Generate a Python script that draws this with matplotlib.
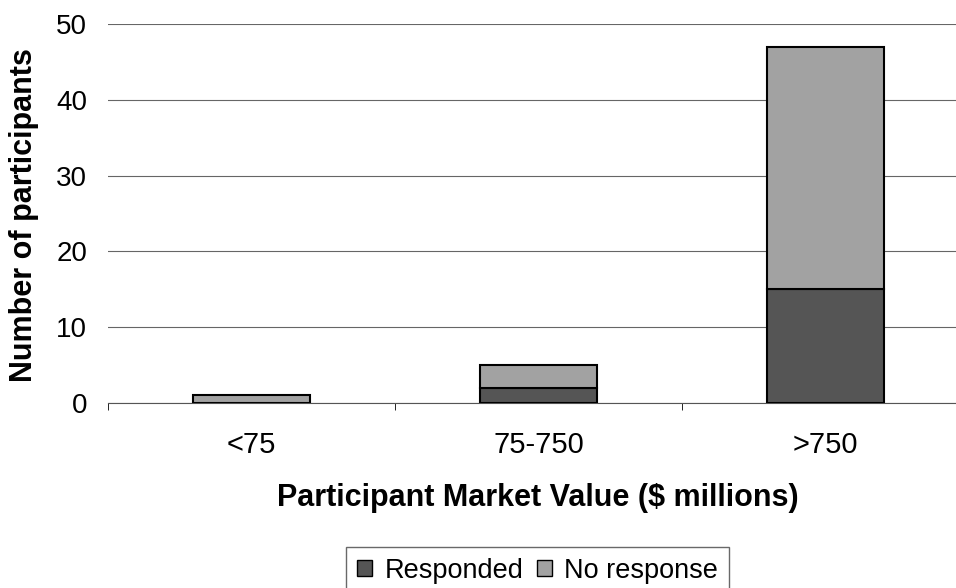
import matplotlib
matplotlib.use("Agg")
import matplotlib.pyplot as plt
from matplotlib.patches import Patch

plt.rcParams['font.family'] = ['Liberation Sans', 'DejaVu Sans']

categories = ["<75", "75-750", ">750"]
responded = [0, 2, 15]
no_response = [1, 3, 32]
yticks = [0, 10, 20, 30, 40, 50]

dark = "#555555"
light = "#a2a2a2"

fig = plt.figure(figsize=(9.56, 5.88), dpi=100)
W, H = 956, 588
left, right, bottom, top = 108, 969, 403, 24
ax = fig.add_axes([left / W, 1 - bottom / H, (right - left) / W, (bottom - top) / H])

x = list(range(len(categories)))
bw = 0.41
ax.bar(x, responded, width=bw, color=dark, edgecolor="black", linewidth=1.5, zorder=3, label="Responded")
ax.bar(x, no_response, width=bw, bottom=responded, color=light, edgecolor="black", linewidth=1.5, zorder=3, label="No response")

ax.set_xlim(-0.5, 2.5)
ax.set_ylim(0, 50)
ax.set_yticks(yticks)
ax.set_xticks(x)
ax.set_xticklabels(categories)
ax.set_xticks([-0.5, 0.5, 1.5, 2.5], minor=True)
ax.tick_params(axis="x", which="major", length=0, pad=20, labelsize=21)
ax.tick_params(axis="x", which="minor", length=5, color="black")
ax.tick_params(axis="y", length=0, pad=15, labelsize=20)
ax.yaxis.grid(True, color="#666666", linewidth=0.8, zorder=0)
for s in ["top", "right", "left"]:
    ax.spines[s].set_visible(False)
ax.spines["bottom"].set_color("#555555")
ax.spines["bottom"].set_linewidth(0.8)

ax.set_ylabel("Number of participants", fontsize=22, fontweight="bold")
ax.yaxis.set_label_coords(-(108 - 24) / (right - left), (403 - 215) / (bottom - top))
ax.set_xlabel("Participant Market Value ($ millions)", fontsize=22, fontweight="bold")
ax.xaxis.set_label_coords((538 - left) / (right - left), -(498 - bottom) / (bottom - top))
ax.xaxis.label.set_va("center")
ax.yaxis.label.set_va("center")

handles = [Patch(facecolor=dark, edgecolor="black"), Patch(facecolor=light, edgecolor="black")]
fig.legend(handles, ["Responded", "No response"], loc="upper center", bbox_to_anchor=(537.5 / W, 1 - 547 / H),
           ncol=2, fontsize=19.5, frameon=True, fancybox=False, edgecolor="#444444",
           handlelength=0.55, handleheight=0.55, handletextpad=0.45, columnspacing=0.5, borderpad=0.4,
           borderaxespad=0)

fig.savefig("out.png", dpi=100)
